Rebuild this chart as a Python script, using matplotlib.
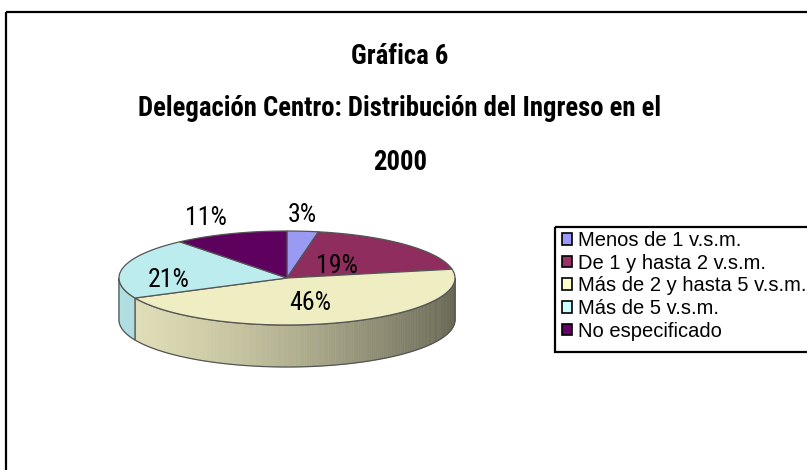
import numpy as np
import matplotlib.pyplot as plt
from matplotlib.patches import Polygon, Rectangle, Patch
from matplotlib.collections import PolyCollection
from matplotlib import colors as mcolors
import matplotlib.font_manager as fm

# ── Data ──
categories = ["Menos de 1 v.s.m.", "De 1 y hasta 2 v.s.m.", "Más de 2 y hasta 5 v.s.m.",
              "Más de 5 v.s.m.", "No especificado"]
shares = [3, 19, 46, 21, 11]
labels = ["3%", "19%", "46%", "21%", "11%"]
colors = ["#9999FF", "#993366", "#FFFFCC", "#CCFFFF", "#660066"]
face_colors = ["#9A9AF2", "#8E2D5E", "#EFEDC2", "#BCECEE", "#5E005E"]

title_lines = ["Gráfica 6", "Delegación Centro: Distribución del Ingreso en el", "2000"]


# ── Narrow font lookup (falls back to Liberation Sans) ──
def weight_num(w):
    return fm.weight_dict.get(w, w) if isinstance(w, str) else w


def narrow_face(bold):
    prefs = ["Liberation Sans Narrow", "Arial Narrow", "Roboto Condensed", "Noto Sans",
             "Open Sans", "Roboto", "Liberation Sans", "DejaVu Sans"]
    cands = []
    for f in fm.fontManager.ttflist:
        if f.style != "normal":
            continue
        narrowish = f.stretch not in ("normal", 500) or \
            any(k in f.name.lower() for k in ("narrow", "condensed"))
        if not narrowish:
            continue
        base = next((i for i, p in enumerate(prefs) if f.name.startswith(p)), len(prefs))
        extra = 1 if "extra" in str(f.stretch) or "ultra" in str(f.stretch) else 0
        wdiff = abs(weight_num(f.weight) - (700 if bold else 400))
        cands.append((base, extra, wdiff, f.fname))
    if not cands:
        return fm.FontProperties(family="Liberation Sans",
                                 weight="bold" if bold else "normal")
    cands.sort()
    return fm.FontProperties(fname=cands[0][3])


font_reg = narrow_face(False)
font_bold = narrow_face(True)
font_legend = fm.FontProperties(family=["Liberation Sans", "DejaVu Sans"], size=14.5)

W, H = 807, 470
fig = plt.figure(figsize=(W / 100, H / 100), dpi=100)
ax = fig.add_axes([0, 0, 1, 1])
ax.set_xlim(0, W)
ax.set_ylim(H, 0)
ax.axis("off")
renderer = fig.canvas.get_renderer()


def fit_size(text, prop, target_px, start=20):
    # font size that makes `text` span target_px
    t = ax.text(0, 0, text, fontproperties=prop, fontsize=start)
    w = t.get_window_extent(renderer).width
    t.remove()
    return start * target_px / w


# chart frame (runs off the right and bottom edges)
ax.add_patch(Rectangle((6, 12), 900, 600, fill=False, edgecolor="black", linewidth=1.6))

# ── Title ──
title_size = fit_size(title_lines[1], font_bold, 523)
for txt, y in zip(title_lines, [56, 109, 163]):
    ax.text(400, y, txt, ha="center", va="center", fontproperties=font_bold,
            fontsize=title_size)

# ── 3D pie ──
cx, cy, rx, ry, depth = 287, 278, 168, 47, 42


def pt(theta, r=1.0, dz=0.0):
    return (cx + r * rx * np.cos(theta), cy - r * ry * np.sin(theta) + dz)


fractions = np.array(shares) / np.sum(shares)
ends = np.pi / 2 - 2 * np.pi * np.cumsum(fractions)
starts = np.concatenate([[np.pi / 2], ends[:-1]])

# side walls: only the front half (sin < 0) is visible
for a0, a1, col in zip(starts, ends, face_colors):
    th = np.linspace(min(a0, a1), max(a0, a1), 200)
    th = th[np.sin(th) < 0]
    if len(th) < 2:
        continue
    quads, cols = [], []
    base = np.array(mcolors.to_rgb(col))
    for t0, t1 in zip(th[:-1], th[1:]):
        p0, p1 = pt(t0), pt(t1)
        quads.append([p0, p1, (p1[0], p1[1] + depth), (p0[0], p0[1] + depth)])
        u = (1 + np.cos(0.5 * (t0 + t1))) / 2
        cols.append(np.clip(base * (0.94 - 0.5 * u ** 1.4), 0, 1))
    ax.add_collection(PolyCollection(quads, facecolors=cols, edgecolors=cols, linewidths=0.4))
    outline = [pt(t) for t in th] + [pt(t, dz=depth) for t in th[::-1]]
    ax.add_patch(Polygon(outline, closed=True, fill=False, edgecolor="#555555", linewidth=0.9))

# top faces
for a0, a1, col in zip(starts, ends, face_colors):
    th = np.linspace(a0, a1, 200)
    poly = [(cx, cy)] + [pt(t) for t in th]
    ax.add_patch(Polygon(poly, closed=True, facecolor=col, edgecolor="#555555", linewidth=0.9))

# percentage labels along each slice's mid angle, with small nudges
label_size = fit_size("46%", font_reg, 42)
label_r = [1.45, 0.42, 0.45, 0.7, 1.42]
label_nudge = [(-8, 5), (0, 2), (0, 5), (-4, 9), (0, 3)]
for a0, a1, lab, r, (dx, dy) in zip(starts, ends, labels, label_r, label_nudge):
    x, y = pt(0.5 * (a0 + a1), r)
    ax.text(x + dx, y + dy, lab, ha="center", va="center", fontproperties=font_reg,
            fontsize=label_size)

# ── Legend ──
ax.add_patch(Rectangle((555, 227), 300, 125, fill=False, edgecolor="black", linewidth=1.6))
handles = [Patch(facecolor=c, edgecolor="black", linewidth=1.2) for c in colors]
ax.legend(handles, categories, loc="upper left", bbox_to_anchor=(559 / W, 1 - 228 / H),
          bbox_transform=fig.transFigure, frameon=False, prop=font_legend,
          handlelength=0.52, handleheight=0.52, handletextpad=0.25,
          labelspacing=0.18, borderaxespad=0, borderpad=0.15)

plt.savefig("out.png", dpi=100)
